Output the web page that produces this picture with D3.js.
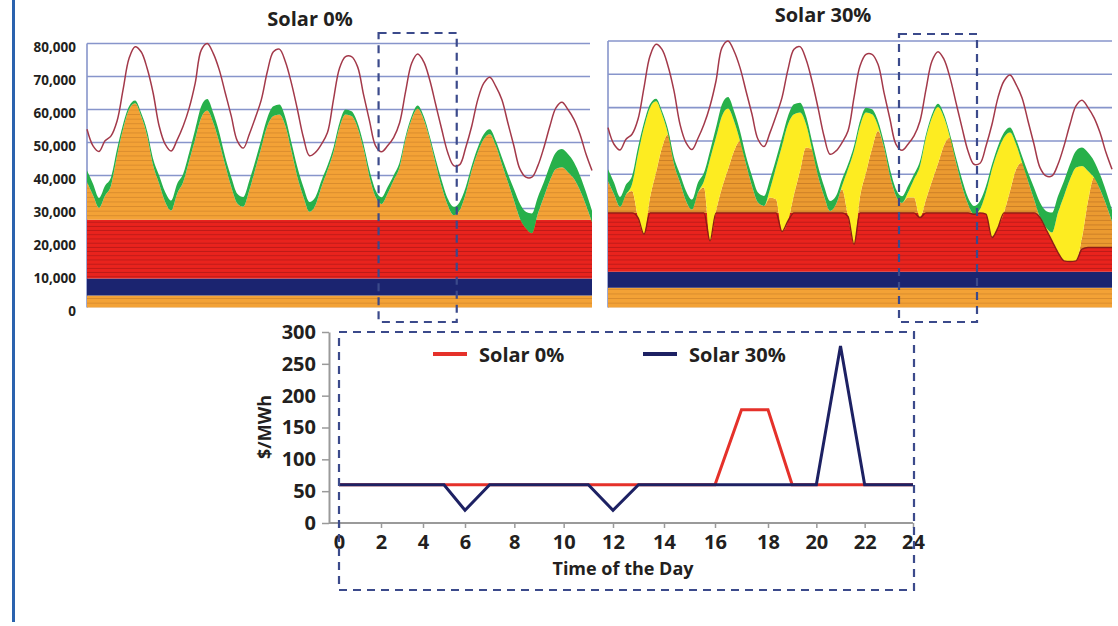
<!DOCTYPE html>
<html><head><meta charset="utf-8">
<script src="https://cdn.jsdelivr.net/npm/d3@7"></script>
<style>
body{margin:0;background:#fff}
text{font-family:'Open Sans',sans-serif;font-weight:700;fill:#231f20}
</style>
</head><body>
<svg id="c" width="1118" height="626"></svg>
<script>
// ---------- DATA (hours of the week, step 2 h) ----------
const hours = [0,2,4,6,8,10,12,14,16,18,20,22,
  24,26,28,30,32,34,36,38,40,42,44,46,
  48,50,52,54,56,58,60,62,64,66,68,70,
  72,74,76,78,80,82,84,86,88,90,92,94,
  96,98,100,102,104,106,108,110,112,114,116,118,
  120,122,124,126,128,130,132,134,136,138,140,142,
  144,146,148,150,152,154,156,158,160,162,164,166,
  168];
// system demand (thin maroon line), MW
const load = [54000,49000,47300,50500,52000,56500,66000,75500,79000,77500,72500,65000,
  55000,49500,47400,50800,55000,60500,68000,78000,80000,77000,72000,65000,
  58000,50500,48300,52500,57500,63000,71500,77500,78300,74500,68000,60000,
  51500,46000,47000,49500,53000,63000,72500,76000,76000,73000,64500,56500,
  49000,47200,49000,51500,56000,65500,74000,76800,74500,69000,61500,54000,
  47000,43000,43300,48500,55000,63000,68000,69800,67000,63000,56000,49000,
  42000,39500,39500,43000,48500,55000,60500,62200,60000,57000,52500,46500,
  41500];
// total generation (top of green band), MW
const supply = [41500,37500,33200,36900,39500,48000,55500,61000,62700,59000,53500,45000,
  40000,35000,32400,37500,40500,47000,54000,61000,63200,59000,53000,45500,
  39500,34500,33500,38500,44500,51000,57500,61000,61500,57500,50000,42500,
  36500,32000,33500,38500,43000,48500,56000,60000,59500,56000,49500,41500,
  35500,33400,36500,40000,44000,52000,58000,61200,58000,52000,45000,38500,
  33000,30500,32000,36500,43000,48500,52500,54000,50500,45500,40500,36000,
  31500,29000,28500,33500,38000,43000,47000,48000,46500,44000,40000,35000,
  29300];
// green band (peaking units / reserve), MW
const reserve = [3500,3500,3000,3000,2500,2000,1500,1000,800,1000,1500,2000,
  2500,3000,3000,3000,2500,2500,3000,3500,3500,3000,3000,2500,
  3000,3000,3000,3000,2500,2500,2500,3000,3000,2500,2500,3000,
  3000,3000,2500,2000,1500,1500,1500,1500,1500,1500,1500,2000,
  2000,2000,2000,1500,1500,1000,1000,1000,1000,1000,1500,2000,
  2000,2500,2500,2000,1500,1500,1500,1500,1500,2000,2500,3500,
  4500,5000,6000,5000,4500,4500,5000,5500,5500,5000,4500,4000,
  3500];
// solar output in the 30 % case (yellow), MW
const solar30 = [0,0,0,0,2000,19000,32000,27000,21400,10000,0,0,
  0,0,0,0,2000,24500,22000,21500,18200,9000,0,0,
  0,0,0,2500,9500,25700,29000,24000,17500,7000,0,0,
  0,0,0,1000,14200,28000,21200,18000,10300,1500,0,0,
  0,0,1500,5500,15500,18500,19000,17000,8300,0,0,0,
  0,0,1000,6500,20500,23000,22400,17500,7600,0,0,0,
  0,500,2500,12000,19500,24700,28000,21500,9000,0,0,0,
  0];
// top of the red (coal) block in the 30 % case, MW
const redTop30 = [28400,28400,28400,28400,28400,28400,28400,28400,28400,28400,28400,28400,
  28400,28400,28400,28400,28400,28400,28400,28400,28400,28400,28400,28400,
  28400,28400,28400,28400,28400,28400,28400,28400,28400,28400,28400,28400,
  28400,28400,28400,28400,28400,28400,28400,28400,28400,28400,28400,28400,
  28400,28400,28400,28400,28400,28400,28400,28400,28400,28400,28400,28400,
  28400,28400,28400,28400,28400,28400,28400,28400,28400,28400,28400,28400,
  27000,23500,20000,16500,14000,13800,14000,17500,18000,18000,18000,18000,
  18000];
// fixed blocks: [bottom orange top, navy top, red top]
const blocks0 = [3600, 8800, 26600];
const blocks30 = [5900, 10700];
const mwTicks = [0,10000,20000,30000,40000,50000,60000,70000,80000];
const highlightHours = [97, 123];

// price chart
const priceHours = [0,1,2,3,4,5,6,7,8,9,10,11,12,13,14,15,16,17,18,19,20,21,22,23,24];
const priceSolar0 = [60,60,60,60,60,60,60,60,60,60,60,60,60,60,60,60,60,178,178,60,60,60,60,60,60];
const priceSolar30 = [60,60,60,60,60,60,20,60,60,60,60,60,20,60,60,60,60,60,60,60,60,278,60,60,60];
const priceTicks = [0,50,100,150,200,250,300];
const hourTicks = [0,2,4,6,8,10,12,14,16,18,20,22,24];
const panelTitles = ["Solar 0%", "Solar 30%"];

// ---------- DRAW ----------
const svg = d3.select('#c');
const defs = svg.append('defs');
function stripe(id, base, line, h) {
  const p = defs.append('pattern').attr('id', id).attr('patternUnits','userSpaceOnUse')
    .attr('width', 8).attr('height', h);
  p.append('rect').attr('width', 8).attr('height', h).attr('fill', base);
  p.append('rect').attr('y', h - 0.9).attr('width', 8).attr('height', 0.9).attr('fill', line);
}
stripe('stO', '#f3a236', '#d88a2c', 4.6);
stripe('stO2', '#eb9a30', '#c97d25', 4.6);
stripe('stR', '#e9231d', '#b91a18', 4.2);

// left page bar
svg.append('rect').attr('x', 12).attr('y', 0).attr('width', 3).attr('height', 622).attr('fill', '#2a62ae');

const idx = hours.map((h, i) => i);
const yTop = i => supply[i] - reserve[i];
const fontCss = "'Open Sans',sans-serif";

function panel(cfg) {
  const x = d3.scaleLinear().domain([0, 168]).range([cfg.x0, cfg.x1]);
  const y = d3.scaleLinear().domain([0, 80000]).range([cfg.yb, cfg.yt]);
  const g = svg.append('g');
  g.selectAll('line.grid').data(mwTicks.filter(d => d > 0)).join('line')
    .attr('x1', x(0)).attr('x2', cfg.gx1).attr('y1', d => y(d)).attr('y2', d => y(d))
    .attr('stroke', '#8795cb').attr('stroke-width', 1.6);
  g.append('line').attr('x1', x(0)).attr('x2', x(0)).attr('y1', y(80000)).attr('y2', y(0))
    .attr('stroke', '#8795cb').attr('stroke-width', 1.6);
  const area = (lo, hi, fill) => g.append('path').datum(idx)
    .attr('d', d3.area().x(i => x(hours[i])).y0(i => y(lo(i))).y1(i => y(hi(i))).curve(d3.curveMonotoneX))
    .attr('fill', fill);
  cfg.draw(area, x, y, g);
  g.append('path').datum(idx)
    .attr('d', d3.line().x(i => x(hours[i])).y(i => y(load[i])).curve(d3.curveCatmullRom.alpha(0.5)))
    .attr('fill', 'none').attr('stroke', '#a3394a').attr('stroke-width', 1.5);
  // highlight box
  g.append('rect').attr('x', x(highlightHours[0])).attr('y', cfg.by0)
    .attr('width', x(highlightHours[1]) - x(highlightHours[0])).attr('height', cfg.by1 - cfg.by0)
    .attr('fill', 'none').attr('stroke', '#3b4a8b').attr('stroke-width', 2.2).attr('stroke-dasharray', '8,6');
  g.append('text').attr('x', cfg.tx).attr('y', cfg.ty).attr('text-anchor', 'middle')
    .style('font-size', '20px').text(cfg.title);
  return {x, y, g};
}

const p0 = panel({x0: 87, x1: 592, gx1: 590, yb: 307.5, yt: 43.5, by0: 33, by1: 322,
  tx: 310, ty: 26, title: panelTitles[0],
  draw: (area) => {
    area(() => 0, () => blocks0[0], 'url(#stO)');
    area(() => blocks0[0], () => blocks0[1], '#1b2470');
    area(() => blocks0[1], () => blocks0[2], 'url(#stR)');
    area(() => blocks0[2], yTop, 'url(#stO)');
    area(yTop, i => supply[i], '#27b04a');
  }});
p0.g.append('g').attr('transform', `translate(${87},0)`)
  .call(d3.axisLeft(p0.y).tickValues(mwTicks).tickSize(0).tickPadding(11).tickFormat(d3.format(',')))
  .call(a => a.select('.domain').remove())
  .call(a => a.selectAll('text').attr('dy', '0.58em').style('font-size', '13.5px').style('font-family', fontCss).style('font-weight', 700).attr('fill', '#231f20'));

const orangeTop30 = i => yTop(i) - solar30[i];
const p1 = panel({x0: 608, x1: 1112, gx1: 1112, yb: 307.5, yt: 41, by0: 34, by1: 322,
  tx: 823, ty: 22, title: panelTitles[1],
  draw: (area, x, y, g) => {
    area(() => 0, () => blocks30[0], 'url(#stO)');
    area(() => blocks30[0], () => blocks30[1], '#1b2470');
    area(() => blocks30[1], i => redTop30[i], 'url(#stR)');
    area(i => redTop30[i], orangeTop30, 'url(#stO2)');
    area(orangeTop30, yTop, '#fdec21');
    area(yTop, i => supply[i], '#27b04a');
    g.append('path').datum(idx)
      .attr('d', d3.line().x(i => x(hours[i])).y(i => y(Math.min(orangeTop30(i), redTop30[i]))).curve(d3.curveMonotoneX))
      .attr('fill', 'none').attr('stroke', '#8e1c16').attr('stroke-width', 1.4);
  }});

// ---------- price chart ----------
const xP = d3.scaleLinear().domain([0, 6, 12, 16, 18, 24]).range([339, 465, 613, 715, 768, 913]);
const yP = d3.scaleLinear().domain([0, 300]).range([523, 332]);
const gp = svg.append('g');
gp.append('line').attr('x1', 329).attr('x2', 913).attr('y1', yP(0)).attr('y2', yP(0))
  .attr('stroke', '#9a9a9a').attr('stroke-width', 2);
gp.append('g').attr('transform', `translate(0,${yP(0)})`)
  .call(d3.axisBottom(xP).tickValues(hourTicks).tickSize(5).tickPadding(7))
  .call(a => a.select('.domain').remove())
  .call(a => a.selectAll('line').attr('stroke', '#9a9a9a').attr('stroke-width', 1.5))
  .call(a => a.selectAll('text').style('font-size', '20px').style('font-family', fontCss).style('font-weight', 700).attr('fill', '#231f20'));
gp.append('g').attr('transform', `translate(329,0)`)
  .call(d3.axisLeft(yP).tickValues(priceTicks).tickSize(7).tickSizeOuter(0).tickPadding(6))
  .call(a => a.select('.domain').attr('stroke', '#9a9a9a').attr('stroke-width', 2))
  .call(a => a.selectAll('line').attr('stroke', '#9a9a9a').attr('stroke-width', 1.5))
  .call(a => a.selectAll('text').style('font-size', '20px').style('font-family', fontCss).style('font-weight', 700).attr('fill', '#231f20'));

const pline = d3.line().x((d, i) => xP(priceHours[i])).y(d => yP(d));
gp.append('path').datum(priceSolar0).attr('d', pline).attr('fill', 'none')
  .attr('stroke', '#e5312a').attr('stroke-width', 3);
gp.append('path').datum(priceSolar30).attr('d', pline).attr('fill', 'none')
  .attr('stroke', '#1d2163').attr('stroke-width', 3);

// dashed frame around the daily price chart
gp.append('rect').attr('x', xP(0)).attr('y', yP(300)).attr('width', xP(24) - xP(0) + 1).attr('height', 590 - yP(300))
  .attr('fill', 'none').attr('stroke', '#3b4a8b').attr('stroke-width', 2.2).attr('stroke-dasharray', '8,6');

// legend
const legend = [{t: panelTitles[0], c: '#e5312a', x: 433}, {t: panelTitles[1], c: '#1d2163', x: 643}];
legend.forEach(l => {
  gp.append('line').attr('x1', l.x).attr('x2', l.x + 34).attr('y1', 354).attr('y2', 354)
    .attr('stroke', l.c).attr('stroke-width', 4);
  gp.append('text').attr('x', l.x + 46).attr('y', 362).style('font-size', '20px').text(l.t);
});

gp.append('text').attr('x', 623).attr('y', 575).attr('text-anchor', 'middle').style('font-size', '18px').text('Time of the Day');
gp.append('text').attr('transform', 'translate(271,427) rotate(-90)').attr('text-anchor', 'middle')
  .style('font-size', '18px').text('$/MWh');
</script>
</body></html>
